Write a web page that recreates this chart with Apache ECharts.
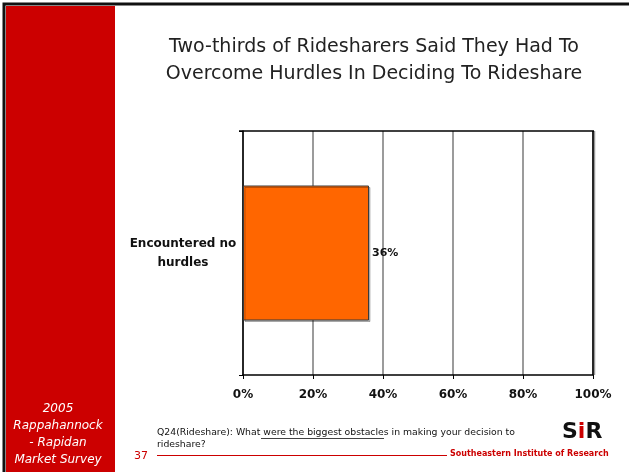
<!DOCTYPE html>
<html>
<head>
<meta charset="utf-8">
<script src="https://cdn.jsdelivr.net/npm/echarts@6/dist/echarts.min.js"></script>
<style>
  html, body { margin: 0; padding: 0; background: #fff; }
  #chart { width: 629px; height: 472px; }
</style>
</head>
<body>
<div id="chart"></div>
<script>
// Survey result: share of ridesharers who encountered no hurdles
const categories = ['Encountered no\nhurdles'];
const values = [36];
const tickLabels = ['0%', '20%', '40%', '60%', '80%', '100%'];

const titleLines = [
  'Two-thirds of Ridesharers Said They Had To',
  'Overcome Hurdles In Deciding To Rideshare'
];
const sidebarLines = ['2005', 'Rappahannock', '- Rapidan', 'Market Survey'];

const chart = echarts.init(document.getElementById('chart'), null, { renderer: 'canvas' });

const FONT = '"DejaVu Sans", Verdana, sans-serif';

const option = {
  backgroundColor: '#ffffff',
  animation: false,
  grid: { left: 243, top: 131, width: 350, height: 244, containLabel: false },
  xAxis: {
    type: 'value',
    min: 0,
    max: 100,
    interval: 20,
    axisLine: { show: true, lineStyle: { color: '#000', width: 1.5 } },
    axisTick: { show: true, length: 4, lineStyle: { color: '#000' } },
    axisLabel: {
      margin: 14,
      color: '#111',
      fontFamily: FONT,
      fontWeight: 'bold',
      fontSize: 12,
      formatter: (v) => tickLabels[Math.round(v / 20)]
    },
    splitLine: { show: true, lineStyle: { color: '#7a7a7a', width: 1.5 } }
  },
  yAxis: {
    type: 'category',
    data: categories,
    axisLine: { show: true, lineStyle: { color: '#000', width: 1.5 } },
    axisTick: { show: true, length: 4, lineStyle: { color: '#000' } },
    axisLabel: {
      margin: 60,
      color: '#111',
      fontFamily: FONT,
      fontWeight: 'bold',
      fontSize: 12,
      lineHeight: 19,
      align: 'center'
    }
  },
  series: [{
    type: 'bar',
    data: values,
    barWidth: 135,
    itemStyle: {
      color: '#ff6600',
      borderColor: '#3a3a3a',
      borderWidth: 1,
      shadowColor: 'rgba(0,0,0,0.25)',
      shadowOffsetX: 1.5,
      shadowOffsetY: 1.5,
      shadowBlur: 0
    },
    label: {
      show: true,
      position: 'right',
      distance: 3,
      formatter: (p) => p.value + '%',
      color: '#111',
      fontFamily: FONT,
      fontWeight: 'bold',
      fontSize: 11
    }
  }],
  graphic: [
    // outer frame and sidebar
    { type: 'rect', z: -1, shape: { x: 4, y: 4, width: 640, height: 480 }, style: { fill: 'none', stroke: '#111', lineWidth: 3 } },
    { type: 'rect', z: 0, shape: { x: 6, y: 6, width: 109, height: 470 }, style: { fill: '#cc0000' } },
    // plot frame: top and right border
    { type: 'line', z: 10, shape: { x1: 239, y1: 131, x2: 594, y2: 131 }, style: { stroke: '#000', lineWidth: 1.5 } },
    { type: 'line', z: 9, shape: { x1: 594.5, y1: 131, x2: 594.5, y2: 375 }, style: { stroke: '#999', lineWidth: 1.5 } },
    { type: 'line', z: 10, shape: { x1: 593, y1: 131, x2: 593, y2: 375 }, style: { stroke: '#000', lineWidth: 1.5 } },
    // title
    {
      type: 'text',
      style: {
        text: titleLines.join('\n'),
        x: 374, y: 34,
        textAlign: 'center',
        fill: '#222',
        font: '19px ' + FONT,
        lineHeight: 27
      }
    },
    // sidebar text
    {
      type: 'text',
      style: {
        text: sidebarLines.join('\n'),
        x: 58, y: 400,
        textAlign: 'center',
        fill: '#fff',
        font: 'italic 12px ' + FONT,
        lineHeight: 17
      }
    },
    // footer question
    {
      type: 'text',
      style: {
        text: 'Q24(Rideshare): What were the biggest obstacles in making your decision to\nrideshare?',
        x: 157, y: 427,
        fill: '#111',
        font: '9.3px ' + FONT,
        lineHeight: 12
      }
    },
    { type: 'line', shape: { x1: 261, y1: 438.5, x2: 384, y2: 438.5 }, style: { stroke: '#111', lineWidth: 0.8 } },
    // page number and footer rule
    {
      type: 'text',
      style: { text: '37', x: 134, y: 451, fill: '#cc0000', font: '11px ' + FONT }
    },
    { type: 'line', shape: { x1: 157, y1: 455.5, x2: 447, y2: 455.5 }, style: { stroke: '#cc0000', lineWidth: 1 } },
    {
      type: 'text',
      style: { text: 'Southeastern Institute of Research', x: 450, y: 450, fill: '#cc0000', font: 'bold 8px ' + FONT }
    },
    // SIR mark
    {
      type: 'text',
      style: {
        text: '{s|S}{i|i}{r|R}',
        x: 562, y: 421,
        rich: {
          s: { fill: '#111', font: '900 22px "DejaVu Sans"' },
          i: { fill: '#cc0000', font: '900 22px "DejaVu Sans"' },
          r: { fill: '#111', font: '900 22px "DejaVu Sans"' }
        }
      }
    }
  ]
};

chart.setOption(option);
</script>
</body>
</html>
